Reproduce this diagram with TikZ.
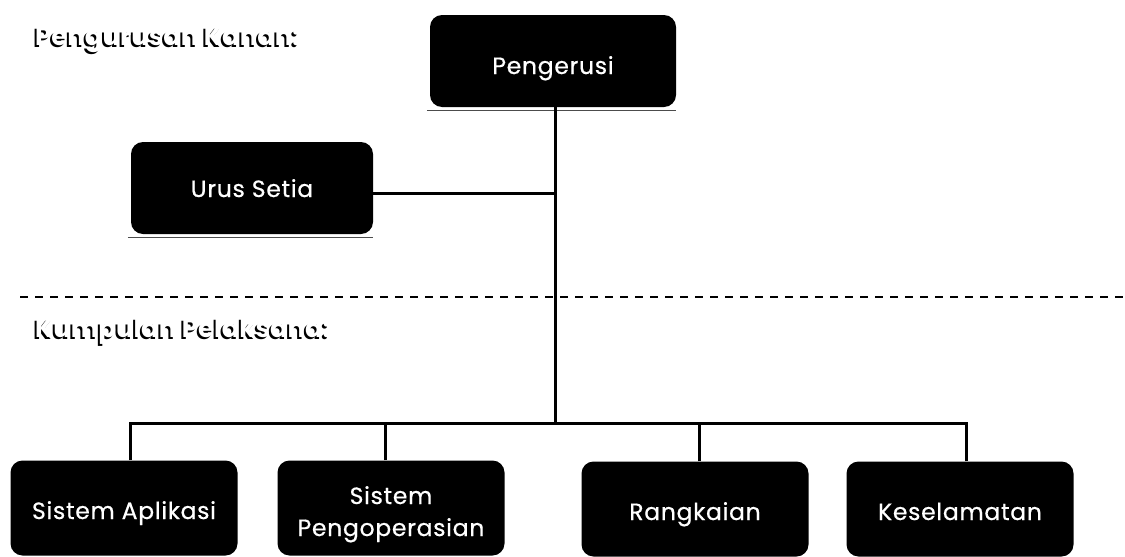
\documentclass[tikz,border=0pt]{standalone}
\usepackage{fontspec}
\setmainfont{Poppins}
\newfontfamily\boxfont{Poppins}[FakeBold=0.6, LetterSpace=3]
\begin{document}
\begin{tikzpicture}[x=1pt,y=-1pt,
  box/.style={fill=black, rounded corners=12pt, text=white, align=center,
    font=\boxfont\fontsize{23.5}{32}\selectfont, inner sep=0pt},
  topbox/.style={box, minimum width=246pt, minimum height=92pt, text height=28pt, text depth=2pt},
  sidebox/.style={box, minimum width=242pt, minimum height=92pt, text height=24pt, text depth=6pt},
  lowbox/.style={box, minimum width=227pt, minimum height=95pt, text height=26pt, text depth=4pt},
  link/.style={line width=3pt},
  rim/.style={line width=1.2pt, black!70},
  headshadow/.style={font=\fontsize{26}{30}\selectfont\bfseries, text=black, inner sep=0pt},
  headtext/.style={font=\fontsize{26}{30}\selectfont\bfseries, text=white, inner sep=0pt},
  sep/.style={line width=2pt, dash pattern=on 8pt off 7pt}]
\useasboundingbox (0,0) rectangle (1125,557);

% headings
\node[headshadow, anchor=west] (h1s) at (33,42) {Pengurusan Kanan:};
\node[headtext, anchor=west] (h1) at (35,40) {Pengurusan Kanan:};
\node[headshadow, anchor=west] (h2s) at (33,333) {Kumpulan Pelaksana:};
\node[headtext, anchor=west] (h2) at (35,331) {Kumpulan Pelaksana:};

% boxes
\node[topbox] (peng) at (553,61) {Pengerusi};
\node[sidebox] (urus) at (252,188) {Urus Setia};
\node[lowbox] (b1) at (124,508) {Sistem Aplikasi};
\node[lowbox, text height=58pt, text depth=2pt] (b2) at (391,508) {Sistem\\Pengoperasian};
\node[lowbox] (b3) at (695,509) {Rangkaian};
\node[lowbox] (b4) at (960,509) {Keselamatan};

% shadow rims
\draw[rim] ([xshift=-3pt,yshift=-3pt]peng.south west) -- ([xshift=0pt,yshift=-3pt]peng.south east);
\draw[rim] ([xshift=-3pt,yshift=-3pt]urus.south west) -- ([xshift=0pt,yshift=-3pt]urus.south east);

% dashed separator
\coordinate (sl) at (20,297);
\coordinate (sr) at (1125,297);
\draw[sep] (sl) -- (sr);

% connectors
\coordinate (spine) at (555,423);
\draw[link] ([xshift=2pt]peng.south) -- (spine);
\draw[link] (urus.east |- 0,193) -- (555,193);
\draw[link] ([xshift=6pt]b1.north) |- (spine);
\draw[link] ([xshift=6pt]b4.north) |- (spine);
\draw[link] ([xshift=-6pt]b2.north) -- ([xshift=-6pt]b2.north |- spine);
\draw[link] ([xshift=4pt]b3.north) -- ([xshift=4pt]b3.north |- spine);
\end{tikzpicture}
\end{document}
